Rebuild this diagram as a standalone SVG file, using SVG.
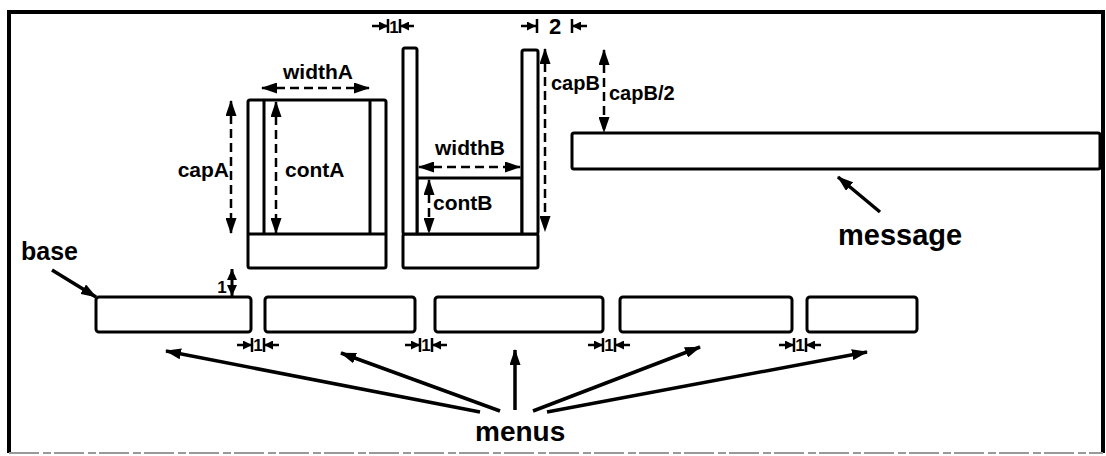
<svg xmlns="http://www.w3.org/2000/svg" width="1106" height="456" viewBox="0 0 1106 456">
<style>
.bx{fill:#fff;stroke:#000;stroke-width:3;stroke-linejoin:round}
.ln{fill:none;stroke:#000;stroke-width:3}
.dash{fill:none;stroke:#000;stroke-width:2.5;stroke-dasharray:9 5}
.ar{fill:none;stroke:#000;stroke-width:3.5}
.dim{fill:none;stroke:#000;stroke-width:2.5}
.t{font-family:"Liberation Sans",Arial,sans-serif;font-weight:bold;fill:#000}
.s{font-size:21px}
.m{font-size:17px}
</style>
<defs>
<marker id="ah" viewBox="0 0 16 11" refX="15" refY="5.5" markerWidth="16" markerHeight="11" markerUnits="userSpaceOnUse" orient="auto-start-reverse"><path d="M0,0 L16,5.5 L0,11 z" fill="#000"/></marker>
<marker id="mh" viewBox="0 0 11 10" refX="11" refY="5" markerWidth="11" markerHeight="10" markerUnits="userSpaceOnUse" orient="auto-start-reverse"><path d="M0,0 L11,5 L0,10 z" fill="#000"/></marker>
<marker id="sh" viewBox="0 0 9 9" refX="9" refY="4.5" markerWidth="9" markerHeight="9" markerUnits="userSpaceOnUse" orient="auto"><path d="M0,0 L9,4.5 L0,9 z" fill="#000"/></marker>
</defs>
<rect width="1106" height="456" fill="#fff"/>
<g id="frame">
<path d="M9,453 L9,12 L1103,12 L1103,453" fill="none" stroke="#000" stroke-width="4"/>
<path d="M9,453 L1103,453" fill="none" stroke="#999" stroke-width="2" stroke-dasharray="30 4 8 3"/>
</g>
<g id="capA">
<rect class="bx" x="248" y="100" width="138" height="168" rx="2"/>
<path class="ln" d="M248,234 H386 M264,100 V234 M370,100 V234"/>
</g>
<g id="capB">
<rect class="bx" x="403" y="234" width="135" height="34" rx="2"/>
<rect class="bx" x="417" y="178" width="105" height="56"/>
<rect class="bx" x="403" y="48" width="14" height="186" rx="2"/>
<rect class="bx" x="522" y="50" width="16" height="184" rx="2"/>
</g>
<g id="message">
<rect class="bx" x="572" y="133" width="528" height="36" rx="2"/>
</g>
<g id="menus">
<rect id="menu1" class="bx" x="96" y="297" width="155" height="35" rx="3"/>
<rect id="menu2" class="bx" x="265" y="297" width="150" height="35" rx="3"/>
<rect id="menu3" class="bx" x="435" y="297" width="168" height="35" rx="3"/>
<rect id="menu4" class="bx" x="620" y="297" width="172" height="35" rx="3"/>
<rect id="menu5" class="bx" x="807" y="297" width="110" height="35" rx="3"/>
</g>
<g id="connectors">
<line class="dash" x1="262" y1="88" x2="369" y2="88" marker-start="url(#ah)" marker-end="url(#ah)"/>
<line class="dash" x1="231" y1="101" x2="231" y2="233" marker-start="url(#ah)" marker-end="url(#ah)"/>
<line class="dash" x1="276" y1="102" x2="276" y2="233" marker-start="url(#ah)" marker-end="url(#ah)"/>
<line class="dash" x1="419" y1="167" x2="520" y2="167" marker-start="url(#ah)" marker-end="url(#ah)"/>
<line class="dash" x1="429" y1="180" x2="429" y2="233" marker-start="url(#ah)" marker-end="url(#ah)"/>
<line class="dash" x1="545" y1="49" x2="545" y2="231" marker-start="url(#ah)" marker-end="url(#ah)"/>
<line class="dash" x1="604" y1="50" x2="604" y2="132" marker-start="url(#ah)" marker-end="url(#ah)"/>
<line class="ln" x1="232" y1="269" x2="232" y2="296" marker-start="url(#mh)" marker-end="url(#mh)"/>
<line class="ar" x1="52" y1="270" x2="96" y2="297" marker-end="url(#ah)"/>
<line class="ar" x1="880" y1="212" x2="838" y2="177" marker-end="url(#ah)"/>
<line class="ar" x1="480" y1="412" x2="166" y2="351" marker-end="url(#ah)"/>
<line class="ar" x1="500" y1="411" x2="341" y2="353" marker-end="url(#ah)"/>
<line class="ar" x1="515" y1="410" x2="515" y2="350" marker-end="url(#ah)"/>
<line class="ar" x1="533" y1="411" x2="700" y2="347" marker-end="url(#ah)"/>
<line class="ar" x1="547" y1="412" x2="867" y2="352" marker-end="url(#ah)"/>
</g>
<g id="dim-top-1">
<line class="dim" x1="372" y1="26" x2="388" y2="26" marker-end="url(#sh)"/>
<line class="dim" x1="414" y1="26" x2="400" y2="26" marker-end="url(#sh)"/>
<path class="dim" d="M388,19 V33 M400,19 V33"/>
<text class="t m" x="394" y="33" text-anchor="middle">1</text>
</g>
<g id="dim-top-2">
<line class="dim" x1="521" y1="26" x2="536" y2="26" marker-end="url(#sh)"/>
<line class="dim" x1="587" y1="26" x2="572" y2="26" marker-end="url(#sh)"/>
<path class="dim" d="M537,19 V33 M572,19 V33"/>
<text class="t" font-size="22" x="555" y="34" text-anchor="middle">2</text>
</g>
<g id="dim-gaps">
<g id="gap1"><line class="dim" x1="237" y1="345" x2="252" y2="345" marker-end="url(#sh)"/><line class="dim" x1="279" y1="345" x2="264" y2="345" marker-end="url(#sh)"/><path class="dim" d="M252,338 V352 M264,338 V352"/><text class="t m" x="258" y="351" text-anchor="middle">1</text></g>
<g id="gap2"><line class="dim" x1="405" y1="345" x2="420" y2="345" marker-end="url(#sh)"/><line class="dim" x1="447" y1="345" x2="432" y2="345" marker-end="url(#sh)"/><path class="dim" d="M420,338 V352 M432,338 V352"/><text class="t m" x="426" y="351" text-anchor="middle">1</text></g>
<g id="gap3"><line class="dim" x1="588" y1="345" x2="603" y2="345" marker-end="url(#sh)"/><line class="dim" x1="630" y1="345" x2="615" y2="345" marker-end="url(#sh)"/><path class="dim" d="M603,338 V352 M615,338 V352"/><text class="t m" x="609" y="351" text-anchor="middle">1</text></g>
<g id="gap4"><line class="dim" x1="779" y1="345" x2="794" y2="345" marker-end="url(#sh)"/><line class="dim" x1="821" y1="345" x2="806" y2="345" marker-end="url(#sh)"/><path class="dim" d="M794,338 V352 M806,338 V352"/><text class="t m" x="800" y="351" text-anchor="middle">1</text></g>
</g>
<g id="labels">
<text class="t s" x="318" y="79" text-anchor="middle">widthA</text>
<text class="t s" x="229" y="177" text-anchor="end">capA</text>
<text class="t s" x="285" y="177">contA</text>
<text class="t s" x="470" y="155" text-anchor="middle">widthB</text>
<text class="t s" x="433" y="210">contB</text>
<text class="t" font-size="20" x="551" y="90">capB</text>
<text class="t" font-size="20" x="609" y="100">capB/2</text>
<text class="t" font-size="17" x="222" y="293" text-anchor="middle">1</text>
<text class="t" font-size="25" x="21" y="260">base</text>
<text class="t" font-size="29" x="838" y="245">message</text>
<text class="t" font-size="28" x="475" y="441">menus</text>
</g>
</svg>
